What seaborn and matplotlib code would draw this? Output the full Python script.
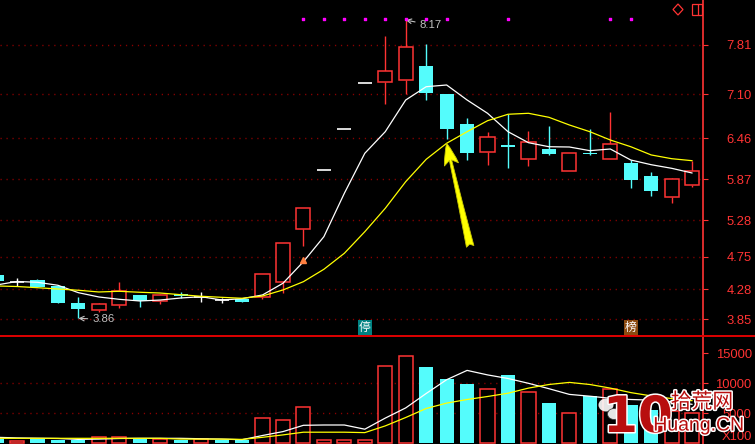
import numpy as np
import matplotlib
matplotlib.use("Agg")
import matplotlib.pyplot as plt
import matplotlib.patheffects as pe
from matplotlib.patches import Ellipse, Rectangle, Polygon
import seaborn as sns

sns.set_theme(style="dark")
plt.rcParams['font.family'] = ['Liberation Sans', 'Noto Sans CJK SC', 'DejaVu Sans']
plt.rcParams['lines.scale_dashes'] = False

# ------------------------
# Data
# ------------------------
opens = [4.486, 4.385, 4.414, 4.327, 4.086, 3.985, 4.057, 4.198, 4.111, 4.212,
         4.174, 4.124, 4.135, 4.164, 4.390, 5.156, 6.000, 6.600, 7.260, 7.271,
         7.300, 7.511, 7.102, 6.668, 6.268, 6.370, 6.167, 6.307, 5.994, 6.254,
         6.167, 6.105, 5.917, 5.618, 5.783]
closes = [4.404, 4.385, 4.318, 4.086, 3.999, 4.067, 4.251, 4.111, 4.193, 4.179,
          4.174, 4.121, 4.101, 4.497, 4.945, 5.450, 6.000, 6.600, 7.260, 7.434,
          7.781, 7.121, 6.601, 6.254, 6.481, 6.340, 6.404, 6.235, 6.245, 6.235,
          6.375, 5.864, 5.705, 5.869, 5.985]
highs = [4.486, 4.439, 4.429, 4.342, 4.164, 4.086, 4.385, 4.198, 4.217, 4.241,
         4.241, 4.150, 4.140, 4.497, 4.945, 5.450, 6.000, 6.600, 7.260, 7.944,
         8.170, 7.829, 7.102, 6.755, 6.549, 6.809, 6.567, 6.640, 6.245, 6.600,
         6.842, 6.148, 5.975, 5.888, 6.130]
lows = [4.404, 4.332, 4.318, 4.086, 3.860, 3.956, 4.014, 4.028, 4.072, 4.150,
        4.101, 4.082, 4.101, 4.145, 4.231, 4.910, 6.000, 6.600, 7.260, 6.962,
        7.106, 7.015, 6.456, 6.148, 6.080, 6.037, 6.066, 6.221, 5.994, 6.216,
        6.167, 5.748, 5.632, 5.531, 5.754]

ma5 = [4.342, 4.393, 4.381, 4.338, 4.231, 4.169, 4.135, 4.111, 4.125, 4.154,
       4.173, 4.125, 4.144, 4.198, 4.367, 4.679, 5.040, 5.667, 6.245, 6.557,
       7.015, 7.207, 7.232, 7.015, 6.823, 6.557, 6.398, 6.340, 6.336, 6.283,
       6.307, 6.148, 6.080, 6.028, 5.960]
ma10 = [4.328, 4.320, 4.303, 4.284, 4.266, 4.241, 4.251, 4.237, 4.226, 4.202,
        4.179, 4.164, 4.150, 4.183, 4.270, 4.390, 4.569, 4.800, 5.112, 5.450,
        5.835, 6.158, 6.390, 6.557, 6.716, 6.809, 6.823, 6.765, 6.654, 6.557,
        6.437, 6.340, 6.221, 6.167, 6.138]

volume = [717, 400, 717, 600, 600, 1050, 1050, 717, 717, 600,
          717, 500, 480, 4217, 3883, 6050, 600, 500, 500, 12833,
          14500, 12717, 10717, 9883, 9050, 11383, 8550, 6717, 5000, 7883,
          9100, 6300, 5500, 5400, 5000]
vol_ma5 = [1000, 900, 850, 800, 650, 700, 800, 830, 830, 830,
           760, 700, 600, 1300, 1950, 3000, 3050, 3050, 2350, 4200,
           5900, 8300, 10600, 12150, 11400, 10800, 10000, 9100, 8150, 7850,
           7500, 7300, 7200, 6900, 6500]
vol_ma10 = [830, 830, 830, 830, 830, 830, 830, 830, 830, 700,
            700, 700, 650, 1000, 1400, 1850, 1850, 1850, 1780, 2900,
            4300, 5800, 6700, 7300, 7800, 8350, 9200, 9800, 10150, 9800,
            9200, 8450, 7900, 7450, 7100]

price_ticks = [7.81, 7.10, 6.46, 5.87, 5.28, 4.75, 4.28, 3.85]
vol_ticks = [15000, 10000, 5000]
signal_days = [15, 16, 17, 18, 19, 20, 21, 22, 25, 30, 31]

RED = "#ff3333"
CYAN = "#54fcfc"
GRID = "#8a0000"
W, H = 755, 444


def fx(px):
    return px / W


def fy(py):
    return 1 - py / H


fig = plt.figure(figsize=(W / 100, H / 100), dpi=100, facecolor="black")
ax = fig.add_axes([0, fy(336), fx(703), 336 / H])
axv = fig.add_axes([0, 0, fx(703), 107 / H])

idx = np.arange(len(opens))
bw = 0.69

for a in (ax, axv):
    a.set_facecolor("black")
    a.set_xlim(0.17, 34.53)
    for s in ("left", "top", "bottom"):
        a.spines[s].set_visible(False)
    a.spines["right"].set_color(RED)
    a.spines["right"].set_linewidth(1.2)
    a.yaxis.tick_right()
    a.set_xticks([])
    a.tick_params(axis="y", colors=RED, length=3.6, width=0.8, pad=31.5,
                  labelsize=9.4, labelcolor=RED)
    a.grid(False)

ax.set_ylim(3.605, 8.460)
axv.set_ylim(-117, 17717)

# gridlines
for t in price_ticks:
    ax.axhline(t, color=GRID, lw=1.0, ls=(0, (0.9, 3.4)), zorder=0)
for t in vol_ticks[1:]:
    axv.axhline(t, color=GRID, lw=1.0, ls=(0, (0.9, 3.4)), zorder=0)

ax.set_yticks(price_ticks)
ax.set_yticklabels([f"{t:.2f}" for t in price_ticks])
axv.set_yticks(vol_ticks)
axv.set_yticklabels([str(t) for t in vol_ticks])
for lab in ax.get_yticklabels() + axv.get_yticklabels():
    lab.set_horizontalalignment("right")

# ------------------------
# Candles
# ------------------------
for i, (o, c, h, l) in enumerate(zip(opens, closes, highs, lows)):
    if abs(c - o) < 0.005:
        ax.vlines(i, l, h, color="white", lw=1.0, zorder=2)
        ax.hlines(o, i - bw / 2, i + bw / 2, color="white", lw=1.2, zorder=2)
    elif c > o:
        ax.vlines(i, l, o, color=RED, lw=1.0, zorder=2)
        ax.vlines(i, c, h, color=RED, lw=1.0, zorder=2)
        ax.bar(i, c - o, bottom=o, width=bw, facecolor="black",
               edgecolor=RED, lw=1.1, zorder=3)
    else:
        ax.vlines(i, l, h, color=CYAN, lw=1.0, zorder=2)
        ax.bar(i, o - c, bottom=c, width=bw, color=CYAN, lw=0, zorder=3)

sns.lineplot(x=idx, y=ma5, ax=ax, color="white", lw=0.9, zorder=5)
sns.lineplot(x=idx, y=ma10, ax=ax, color="#ffff00", lw=0.9, zorder=5)

# signal dots along the top
ax.scatter(signal_days, [0.943] * len(signal_days), marker="s", s=3,
           color="#ff00ff", transform=ax.get_xaxis_transform(), zorder=6)
ax.plot(15, 4.70, marker="^", ms=5, color="#ff7f40", zorder=6)

# high / low labels
ax.annotate("3.86", xy=(4, lows[4]), xytext=(14, -1), textcoords="offset pixels",
            color="#c0c0c0", fontsize=8.2, va="center", ha="left",
            arrowprops=dict(arrowstyle="->", color="#c0c0c0", lw=0.8,
                            shrinkA=1, shrinkB=0))
ax.annotate("8.17", xy=(20, highs[20]), xytext=(14, -5), textcoords="offset pixels",
            color="#c0c0c0", fontsize=8.2, va="center", ha="left",
            arrowprops=dict(arrowstyle="->", color="#c0c0c0", lw=0.8,
                            shrinkA=1, shrinkB=0))

# yellow arrow pointing at MA10
ax.annotate("", xy=(22, ma10[22]), xytext=(23.15, 4.90),
            arrowprops=dict(arrowstyle="fancy,head_length=1.2,head_width=0.8,tail_width=0.42",
                            fc="#ffff00", ec="#c8c800", lw=0.6, mutation_scale=13,
                            shrinkA=0, shrinkB=0), zorder=7)

# 停 / 榜 tags
ax.text(18, 0.005, "停", transform=ax.get_xaxis_transform(), color="white",
        fontsize=8.5, ha="center", va="bottom", family=["Noto Sans CJK SC"],
        bbox=dict(boxstyle="square,pad=0.1", fc="#008282", ec="none"), zorder=8)
ax.text(31, 0.005, "榜", transform=ax.get_xaxis_transform(), color="white",
        fontsize=8.5, ha="center", va="bottom", family=["Noto Sans CJK SC"],
        bbox=dict(boxstyle="square,pad=0.1", fc="#8b4a10", ec="none"), zorder=8)

# ------------------------
# Volume
# ------------------------
for i, (o, c, v) in enumerate(zip(opens, closes, volume)):
    if c >= o:
        axv.bar(i, v, width=bw, facecolor="black", edgecolor=RED, lw=1.1, zorder=2)
    else:
        axv.bar(i, v, width=bw, color=CYAN, lw=0, zorder=2)

sns.lineplot(x=idx, y=vol_ma5, ax=axv, color="white", lw=0.9, zorder=4)
sns.lineplot(x=idx, y=vol_ma10, ax=axv, color="#ffff00", lw=0.9, zorder=4)
axv.set_ylabel("")
ax.set_ylabel("")

fig.text(fx(752), fy(437), "X100", color=RED, fontsize=9.4, ha="right", va="center")

# separator line and top-right icons
fig.add_artist(plt.Line2D([0, 1], [fy(336), fy(336)], color="#e00000", lw=1.4))
fig.add_artist(Polygon([[fx(678), fy(4)], [fx(683), fy(9.5)], [fx(678), fy(15)], [fx(673), fy(9.5)]],
                       closed=True, fill=False, ec=RED, lw=0.9, transform=fig.transFigure))
fig.add_artist(Rectangle((fx(692), fy(15)), fx(10), 11 / H, fill=False, ec=RED, lw=0.9,
                         transform=fig.transFigure))
fig.add_artist(plt.Line2D([fx(697.5), fx(697.5)], [fy(4), fy(15)], color=RED, lw=0.9))

# watermark
stroke = [pe.withStroke(linewidth=2.2, foreground="white")]
fig.add_artist(Ellipse((fx(606), fy(405)), 15 / W, 13 / H, fc="white", ec="none", alpha=0.9,
                       transform=fig.transFigure))
fig.add_artist(Ellipse((fx(614), fy(414)), 13 / W, 11 / H, fc="white", ec="#333333", lw=0.6,
                       alpha=0.9, transform=fig.transFigure))
fig.text(fx(638), fy(418), "10", color="#b80e0e", fontsize=36, fontweight="bold",
         ha="center", va="center", family=["DejaVu Sans"], path_effects=stroke)
fig.text(fx(702), fy(402), "拾荒网", color="#b80e0e", fontsize=15, ha="center",
         va="center", family=["Noto Sans CJK SC"], path_effects=stroke)
fig.text(fx(699), fy(426), "Huang.CN", color="#b80e0e", fontsize=14, ha="center",
         va="center", path_effects=stroke)

fig.savefig("out.png", dpi=100, facecolor="black")
